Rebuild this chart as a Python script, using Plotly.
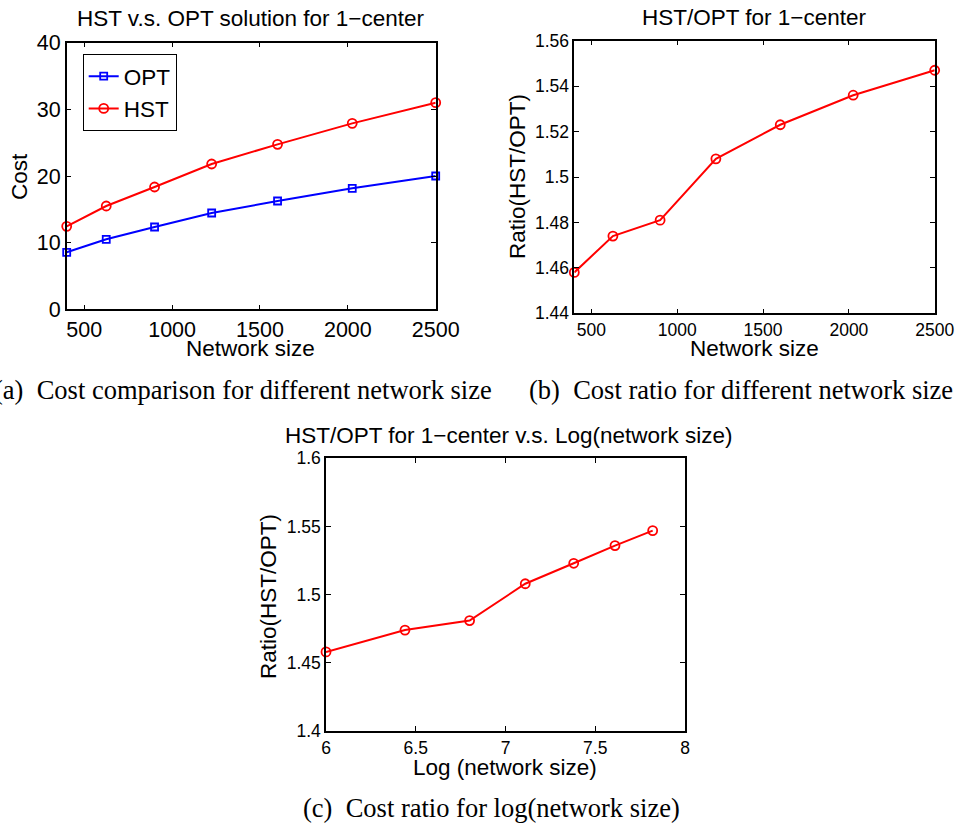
import plotly.graph_objects as go

# Network sizes and measured costs
network_size = [400, 625, 900, 1225, 1600, 2025, 2500]
log_network_size = [6.0, 6.44, 6.80, 7.11, 7.38, 7.61, 7.82]
opt_cost = [8.55, 10.5, 12.35, 14.45, 16.25, 18.15, 20.0]
hst_cost = [12.45, 15.5, 18.35, 21.8, 24.75, 27.9, 31.0]
ratio = [1.458, 1.474, 1.481, 1.508, 1.523, 1.536, 1.547]

size_ticks = [500, 1000, 1500, 2000, 2500]
cost_ticks = [0, 10, 20, 30, 40]
ratio_ticks = [1.44, 1.46, 1.48, 1.50, 1.52, 1.54, 1.56]
ratio_tick_text = ["1.44", "1.46", "1.48", "1.5", "1.52", "1.54", "1.56"]
log_ticks = [6, 6.5, 7, 7.5, 8]
log_ratio_ticks = [1.40, 1.45, 1.50, 1.55, 1.60]
log_ratio_tick_text = ["1.4", "1.45", "1.5", "1.55", "1.6"]

W, H = 956, 823
SANS = "Liberation Sans, Arial, Helvetica, sans-serif"
SERIF = "Liberation Serif, Times New Roman, serif"
BLUE = "#0000ff"
RED = "#ff0000"
FS = 22.5        # titles, axis titles, legend
TICK_A = 21.5    # tick labels of the cost chart
TICK_BC = 17.5   # tick labels of the ratio charts


def px(x):
    return x / W


def py(y):
    return 1 - y / H


def axis(tick_size, **kw):
    return dict(
        showline=True, linecolor="black", linewidth=1.5, mirror="ticks",
        ticks="inside", ticklen=5, tickwidth=1, tickcolor="black",
        showgrid=False, zeroline=False, automargin=False,
        ticklabeloverflow="allow",
        tickfont=dict(family=SANS, size=tick_size, color="black"),
        **kw,
    )


fig = go.Figure()

fig.add_trace(go.Scatter(
    x=network_size, y=opt_cost, name="OPT", mode="lines+markers",
    line=dict(color=BLUE, width=2),
    marker=dict(symbol="square-open", size=7, color=BLUE, line=dict(width=1.8, color=BLUE)),
    xaxis="x", yaxis="y", cliponaxis=False,
))
fig.add_trace(go.Scatter(
    x=network_size, y=hst_cost, name="HST", mode="lines+markers",
    line=dict(color=RED, width=2),
    marker=dict(symbol="circle-open", size=9, color=RED, line=dict(width=1.8, color=RED)),
    xaxis="x", yaxis="y", cliponaxis=False,
))
fig.add_trace(go.Scatter(
    x=network_size, y=ratio, mode="lines+markers", showlegend=False,
    line=dict(color=RED, width=2),
    marker=dict(symbol="circle-open", size=9, color=RED, line=dict(width=1.8, color=RED)),
    xaxis="x2", yaxis="y2", cliponaxis=False,
))
fig.add_trace(go.Scatter(
    x=log_network_size, y=ratio, mode="lines+markers", showlegend=False,
    line=dict(color=RED, width=2),
    marker=dict(symbol="circle-open", size=9, color=RED, line=dict(width=1.8, color=RED)),
    xaxis="x3", yaxis="y3", cliponaxis=False,
))

fig.update_layout(
    width=W, height=H,
    margin=dict(l=0, r=0, t=0, b=0, autoexpand=False),
    paper_bgcolor="white", plot_bgcolor="white",
    xaxis=axis(TICK_A, domain=[px(66.7), px(435.7)], range=[400, 2500],
               tickvals=size_ticks, anchor="y"),
    yaxis=axis(TICK_A, domain=[py(309.3), py(42.7)], range=[0, 40],
               tickvals=cost_ticks, anchor="x"),
    xaxis2=axis(TICK_BC, domain=[px(574.3), px(934.7)], range=[400, 2500],
                tickvals=size_ticks, anchor="y2"),
    yaxis2=axis(TICK_BC, domain=[py(313.3), py(40.7)], range=[1.44, 1.56],
                tickvals=ratio_ticks, ticktext=ratio_tick_text, anchor="x2"),
    xaxis3=axis(TICK_BC, domain=[px(326), px(685)], range=[6, 8],
                tickvals=log_ticks, anchor="y3"),
    yaxis3=axis(TICK_BC, domain=[py(731), py(458.3)], range=[1.4, 1.6],
                tickvals=log_ratio_ticks, ticktext=log_ratio_tick_text, anchor="x3"),
    legend=dict(
        x=px(82.7), y=py(54), xanchor="left", yanchor="top",
        bgcolor="white", bordercolor="black", borderwidth=1,
        font=dict(family=SANS, size=FS, color="black"),
        itemwidth=30, tracegroupgap=0,
    ),
    showlegend=True,
)

texts = [
    # chart titles
    ("HST v.s. OPT solution for 1\u2212center", 251, 18, 0, SANS, FS),
    ("HST/OPT for 1\u2212center", 754.5, 17, 0, SANS, FS),
    ("HST/OPT for 1\u2212center v.s. Log(network size)", 508, 435, 0, SANS, FS),
    # axis titles
    ("Network size", 251, 348, 0, SANS, FS),
    ("Network size", 754, 348, 0, SANS, FS),
    ("Log (network size)", 504.5, 767, 0, SANS, FS),
    ("Cost", 20, 177, -90, SANS, FS),
    ("Ratio(HST/OPT)", 518, 177, -90, SANS, FS),
    ("Ratio(HST/OPT)", 268, 597, -90, SANS, FS),
    # captions
    ("(a)\u2002Cost comparison for different network size", 242.5, 390, 0, SERIF, 26.5),
    ("(b)\u2002Cost ratio for different network size", 741, 390, 0, SERIF, 26.5),
    ("(c)\u2002Cost ratio for log(network size)", 491.7, 808, 0, SERIF, 26.5),
]
for text, x, y, angle, family, size in texts:
    fig.add_annotation(
        text=text, x=px(x), y=py(y), xref="paper", yref="paper",
        xanchor="center", yanchor="middle", showarrow=False, textangle=angle,
        font=dict(family=family, size=size, color="black"),
    )

fig.write_html("out.html")
